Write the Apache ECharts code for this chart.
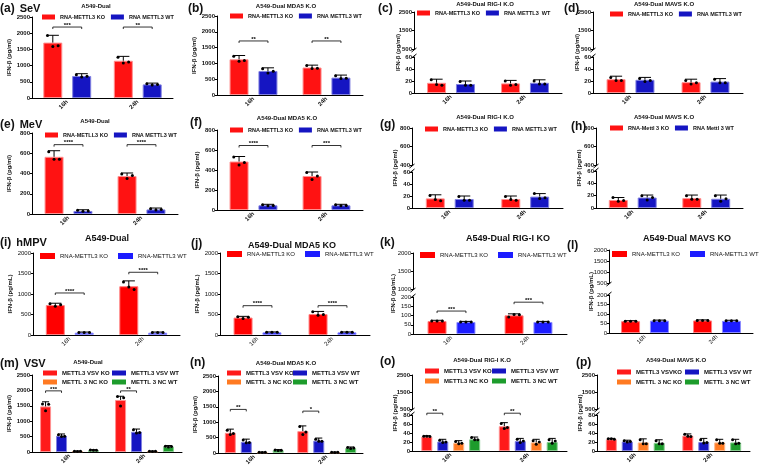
<!DOCTYPE html>
<html>
<head>
<meta charset="utf-8">
<script src="https://cdn.jsdelivr.net/npm/echarts@6/dist/echarts.min.js"></script>
<style>
html, body {margin: 0; padding: 0; background: #fff;}
#chart {width: 760px; height: 469px;}
</style>
</head>
<body>
<div id="chart"></div>
<script>
const font = 'Liberation Sans, Arial, sans-serif';
const times = ['16h', '24h'];

// legend / series names
const namesA = ['RNA-METTL3 KO', 'RNA METTL3 WT'];
const namesC = ['RNA-METTL3 KO', 'RNA METTL3  WT'];
const namesE = ['RNA-METLL3 KO', 'RNA METTL3 WT'];
const namesH = ['RNA-Mettl 3 KO', 'RNA Mettl 3 WT'];
const namesI = ['RNA-METTL3 KO', 'RNA-METTL3 WT'];
const namesM = ['METTL3 VSV KO', 'METTL3 VSV WT', 'METTL 3 NC KO', 'METTL 3 NC WT'];
const namesO = ['METTL3 VSV KO', 'METTL3 VSV WT', 'METTL3 NC KO', 'METTL 3 NC WT'];
const namesP = ['METTL3 VSVKO', 'METTL3 VSV WT', 'METTL 3 NC KO', 'METTL 3 NC WT'];

// values: [series][time], dots: [series][time][replicate], sig: [label, bracket height] per time
const aMean = [[1710, 1150], [680, 420]];
const aSd = [[225, 135], [70, 40]];
const aDots = [[[1930, 1590, 1610], [1260, 1080, 1110]], [[720, 650, 670], [440, 400, 420]]];
const aSig = [['***', 2190], ['**', 2190]];

const bMean = [[1130, 870], [760, 550]];
const bSd = [[120, 75], [100, 80]];
const bDots = [[[1230, 1070, 1090], [930, 840, 850]], [[830, 700, 750], [610, 520, 530]]];
const bSig = [['**', 1710], ['**', 1710]];

const cMean = [[17, 16], [15, 17]];
const cSd = [[6, 5], [5, 5]];
const cDots = [[[22, 14, 13], [20, 13, 14]], [[19, 13, 13], [20, 15, 15]]];

const dMean = [[23, 18], [22, 19]];
const dSd = [[5, 5], [4, 5]];
const dDots = [[[26, 21, 21], [21, 15, 17]], [[24, 19, 21], [23, 17, 17]]];

const eMean = [[565, 375], [30, 45]];
const eSd = [[60, 30], [12, 14]];
const eDots = [[[615, 540, 540], [395, 350, 380]], [[36, 28, 30], [52, 40, 44]]];
const eSig = [['****', 685], ['****', 685]];

const fMean = [[485, 340], [47, 47]];
const fSd = [[50, 40], [10, 10]];
const fDots = [[[530, 450, 475], [375, 305, 340]], [[52, 43, 46], [52, 42, 46]]];
const fSig = [['****', 645], ['***', 645]];

const gMean = [[16, 15], [15, 19]];
const gSd = [[6, 5], [5, 5]];
const gDots = [[[21, 14, 12], [19, 14, 13]], [[19, 13, 13], [24, 16, 17]]];

const hMean = [[13, 16], [17, 15]];
const hSd = [[4, 5], [4, 6]];
const hDots = [[[17, 11, 12], [20, 14, 14]], [[20, 13, 17], [20, 11, 15]]];

const iMean = [[730, 1190], [57, 57]];
const iSd = [[45, 130], [15, 15]];
const iDots = [[[760, 700, 740], [1290, 1170, 1110]], [[60, 58, 60], [58, 60, 58]]];
const iSig = [['****', 1025], ['****', 1530]];

const jMean = [[425, 510], [65, 65]];
const jSd = [[30, 65], [10, 10]];
const jDots = [[[445, 400, 430], [565, 480, 500]], [[65, 65, 65], [65, 65, 65]]];
const jSig = [['****', 715], ['****', 715]];

const kMean = [[70, 101], [65, 65]];
const kSd = [[4, 8], [3, 3]];
const kDots = [[[70, 70, 70], [92, 106, 104]], [[65, 65, 65], [65, 65, 65]]];
const kSig = [['***', 124], ['***', 172]];

const lMean = [[62, 66], [65, 64]];
const lSd = [[3, 3], [3, 3]];
const lDots = [[[62, 62, 62], [66, 66, 66]], [[65, 65, 65], [64, 64, 64]]];

const mMean = [[1480, 1690], [525, 655], [25, 22], [60, 175]];
const mSd = [[150, 120], [60, 90], [10, 10], [15, 35]];
const mDots = [[[1560, 1340, 1550], [1800, 1490, 1760]], [[560, 500, 515], [720, 620, 630]], [[28, 20, 25], [25, 18, 22]], [[65, 55, 60], [190, 160, 175]]];
const mSig = [['***', 1985], ['**', 1985]];

const nMean = [[655, 710], [360, 400], [22, 22], [90, 160]];
const nSd = [[120, 170], [90, 85], [10, 10], [20, 35]];
const nDots = [[[740, 600, 630], [860, 600, 680]], [[420, 330, 340], [450, 380, 380]], [[25, 20, 22], [25, 20, 22]], [[100, 80, 90], [180, 145, 160]]];
const nSig = [['**', 1415], ['*', 1360]];

const oMean = [[32, 55], [21, 22], [18, 19], [26, 20]];
const oSd = [[2, 8], [5, 6], [5, 7], [5, 8]];
const oDots = [[[33, 33, 32], [61, 50, 52]], [[24, 19, 20], [26, 19, 22]], [[21, 16, 17], [23, 15, 20]], [[30, 25, 25], [25, 17, 22]]];
const oSig = [['**', 84], ['**', 84]];

const pMean = [[26, 34], [21, 20], [19, 19], [18, 19]];
const pSd = [[2, 4], [3, 8], [8, 7], [7, 7]];
const pDots = [[[27, 27, 26], [37, 33, 32]], [[23, 20, 21], [25, 18, 19]], [[25, 16, 16], [25, 17, 17]], [[23, 16, 16], [25, 16, 17]]];

const panels = [
    {id: 'a', row: 0, names: namesA, mean: aMean, sd: aSd, dots: aDots, sig: aSig, title: 'A549-Dual', tag: '(a)', virus: 'SeV'},
    {id: 'b', row: 0, names: namesA, mean: bMean, sd: bSd, dots: bDots, sig: bSig, title: 'A549-Dual MDA5 K.O', tag: '(b)'},
    {id: 'c', row: 0, names: namesC, mean: cMean, sd: cSd, dots: cDots, sig: [], title: 'A549-Dual RIG-I K.O', tag: '(c)'},
    {id: 'd', row: 0, names: namesA, mean: dMean, sd: dSd, dots: dDots, sig: [], title: 'A549-Dual MAVS K.O', tag: '(d)'},
    {id: 'e', row: 1, names: namesE, mean: eMean, sd: eSd, dots: eDots, sig: eSig, title: 'A549-Dual', tag: '(e)', virus: 'MeV'},
    {id: 'f', row: 1, names: namesA, mean: fMean, sd: fSd, dots: fDots, sig: fSig, title: 'A549-Dual MDA5 K.O', tag: '(f)'},
    {id: 'g', row: 1, names: namesA, mean: gMean, sd: gSd, dots: gDots, sig: [], title: 'A549-Dual RIG-I K.O', tag: '(g)'},
    {id: 'h', row: 1, names: namesH, mean: hMean, sd: hSd, dots: hDots, sig: [], title: 'A549-Dual MAVS K.O', tag: '(h)'},
    {id: 'i', row: 2, names: namesI, mean: iMean, sd: iSd, dots: iDots, sig: iSig, title: 'A549-Dual', tag: '(i)', virus: 'hMPV'},
    {id: 'j', row: 2, names: namesI, mean: jMean, sd: jSd, dots: jDots, sig: jSig, title: 'A549-Dual MDA5 KO', tag: '(j)'},
    {id: 'k', row: 2, names: namesI, mean: kMean, sd: kSd, dots: kDots, sig: kSig, title: 'A549-Dual RIG-I KO', tag: '(k)'},
    {id: 'l', row: 2, names: namesI, mean: lMean, sd: lSd, dots: lDots, sig: [], title: 'A549-Dual MAVS KO', tag: '(l)'},
    {id: 'm', row: 3, names: namesM, mean: mMean, sd: mSd, dots: mDots, sig: mSig, title: 'A549-Dual', tag: '(m)', virus: 'VSV'},
    {id: 'n', row: 3, names: namesM, mean: nMean, sd: nSd, dots: nDots, sig: nSig, title: 'A549-Dual MDA5 K.O', tag: '(n)'},
    {id: 'o', row: 3, names: namesO, mean: oMean, sd: oSd, dots: oDots, sig: oSig, title: 'A549-Dual RIG-I K.O', tag: '(o)'},
    {id: 'p', row: 3, names: namesP, mean: pMean, sd: pSd, dots: pDots, sig: [], title: 'A549-Dual MAVS K.O', tag: '(p)'}
];

// plot boxes in px: l/r = x-axis extent, t = top tick, b = zero line, ub/lt = break for split axes
const layout = {
    a: {l: 32, r: 173, t: 17, b: 98, y: [0, 2500, 500], ng: 20, tt: [96, 3], tg: [0, 0], lg: [42, 14]},
    b: {l: 217, r: 363, t: 16, b: 95, y: [0, 2500, 500], ng: 18, tt: [286, 3], tg: [188, 3], lg: [230, 13]},
    c: {l: 414, r: 562, t: 12, ub: 49, lt: 57, b: 93, yu: [500, 2500, 1000], y: [0, 60, 20], ng: 13, tt: [485, 1], tg: [378, 3], lg: [417, 10]},
    d: {l: 593, r: 743, t: 12, ub: 49, lt: 57, b: 93, yu: [500, 2500, 1000], y: [0, 60, 20], ng: 13, tt: [664, 1], tg: [564, 3], lg: [610, 11]},
    e: {l: 32, r: 178, t: 133, b: 214, y: [0, 800, 200], ng: 20, tt: [95, 118], tg: [0, 116], lg: [45, 132]},
    f: {l: 217, r: 363, t: 130, b: 210, y: [0, 800, 200], ng: 17, tt: [287, 115], tg: [190, 117], lg: [230, 127]},
    g: {l: 412, r: 563, t: 128, ub: 165, lt: 172, b: 208, yu: [400, 800, 200], y: [0, 60, 20], ng: 14, tt: [485, 114], tg: [380, 119], lg: [425, 126]},
    h: {l: 596, r: 743, t: 128, ub: 165, lt: 171, b: 208, yu: [400, 800, 200], y: [0, 60, 20], ng: 14, tt: [664, 114], tg: [571, 121], lg: [610, 125]},
    i: {l: 33, r: 180, t: 253, b: 335, y: [0, 2000, 500], ng: 20, tt: [107, 234], tg: [0, 234], lg: [40, 253]},
    j: {l: 220, r: 370, t: 253, b: 335, y: [0, 2000, 500], ng: 18, tt: [292, 241], tg: [191, 238], lg: [227, 251]},
    k: {l: 413, r: 567, t: 253, ub: 289, lt: 297, b: 334, yu: [1000, 2000, 500], y: [0, 200, 50], ng: 17, tt: [508, 234], tg: [380, 237], lg: [420, 252]},
    l: {l: 609, r: 753, t: 250, ub: 283, lt: 295, b: 333, yu: [500, 2000, 500], y: [0, 200, 50], ng: 15, tt: [687, 234], tg: [567, 240], lg: [612, 251]},
    m: {l: 32, r: 182, t: 375, b: 452, y: [0, 2500, 500], ng: 20, tt: [88, 359], tg: [0, 355], lg: [[43, 370], [112, 370], [43, 379], [112, 379]]},
    n: {l: 218, r: 363, t: 376, b: 453, y: [0, 2500, 500], ng: 18, tt: [286, 360], tg: [190, 357], lg: [[227, 370], [293, 370], [227, 379], [293, 379]]},
    o: {l: 412, r: 567, t: 375, ub: 409, lt: 415, b: 451, yu: [500, 2500, 1000], y: [0, 80, 20], ng: 14, tt: [482, 357], tg: [380, 356], lg: [[425, 368], [492, 368], [425, 378], [492, 378]]},
    p: {l: 597, r: 750, t: 375, ub: 409, lt: 415, b: 451, yu: [500, 2500, 1000], y: [0, 80, 20], ng: 14, tt: [676, 357], tg: [576, 357], lg: [[617, 369], [685, 369], [617, 379], [685, 379]]}
};

const rowStyle = [
    {colors: ['#ff1212', '#1515c2'], edge: ['#ff9090', '#8080e0'], fw: 'bold', fs: 6, leg: 5.5, lw: 13, lh: 5, gap: 6, tfs: 6, yname: 'IFN-β (pg/ml)', bw: 19, barGap: '52%'},
    {colors: ['#ff1212', '#1515c2'], edge: ['#ff9090', '#8080e0'], fw: 'bold', fs: 6, leg: 5.5, lw: 13, lh: 5, gap: 6, tfs: 6, yname: 'IFN-β (pg/ml)', bw: 19, barGap: '52%'},
    {colors: ['#ff0000', '#1c1cff'], edge: ['#ff8080', '#8c8cff'], fw: 'normal', fs: 6, leg: 6, lw: 15, lh: 6, gap: 10, tfs: 9, yname: 'IFN-β (pg/mL)', bw: 19, barGap: '52%'},
    {colors: ['#ff1a1a', '#1515c2', '#ff7a22', '#1d9c2c'], edge: ['#ff9090', '#8080e0', '#ffb888', '#88cc90'], fw: 'bold', fs: 6, leg: 6, lw: 14, lh: 5, gap: 7, tfs: 6, yname: 'IFN-β (pg/ml)', bw: 11, barGap: '45%'}
];

const option = {
    animation: false,
    backgroundColor: '#fff',
    textStyle: {fontFamily: font},
    grid: [], xAxis: [], yAxis: [], series: [], legend: [], title: [], graphic: []
};

function valueAxis(gi, range, R, showName, ng) {
    return {
        gridIndex: gi, type: 'value', min: range[0], max: range[1], interval: range[2],
        splitLine: {show: false},
        axisLine: {show: true, lineStyle: {color: '#000', width: 1}},
        axisTick: {show: true, length: 2, lineStyle: {color: '#000'}},
        axisLabel: {fontSize: R.fs, fontWeight: R.fw, color: '#111', margin: 2, fontFamily: font, showMinLabel: true, showMaxLabel: true,
            formatter: function (v) { return String(v); }},
        name: showName ? R.yname : '', nameLocation: 'middle', nameGap: ng,
        nameTextStyle: {fontSize: 6, fontWeight: 'bold', color: '#111', fontFamily: font}
    };
}

function catAxis(gi, show, R) {
    return {
        gridIndex: gi, type: 'category', data: times, show: show,
        axisLine: {lineStyle: {color: '#000', width: 1}},
        axisTick: {alignWithLabel: true, length: 2, lineStyle: {color: '#000'}},
        axisLabel: {rotate: 45, fontSize: R.fs, fontWeight: R.fw, color: '#111', margin: 3, fontFamily: font}
    };
}

function errorRender(p, R, step) {
    const n = p.mean.length;
    return function (params, api) {
        const t = api.value(0), s = api.value(1), m = api.value(2), sd = api.value(3);
        const base = api.coord([t, m]);
        const x = base[0] + (s - (n - 1) / 2) * step;
        const top = api.coord([t, m + sd])[1];
        const cap = R.bw * 0.32;
        const kids = [
            {type: 'line', shape: {x1: x, y1: base[1], x2: x, y2: top}, style: {stroke: '#000', lineWidth: 1}},
            {type: 'line', shape: {x1: x - cap, y1: top, x2: x + cap, y2: top}, style: {stroke: '#000', lineWidth: 1}}
        ];
        p.dots[s][t].forEach(function (v, k) {
            const y = api.coord([t, v])[1];
            kids.push({type: 'circle', shape: {cx: x + (k - 1) * R.bw * 0.28, cy: y, r: 1.5}, style: {fill: '#000'}});
        });
        return {type: 'group', children: kids};
    };
}

function sigRender(p, step) {
    const n = p.mean.length;
    return function (params, api) {
        const t = api.value(0), v = api.value(1);
        const c = api.coord([t, v]);
        const x0 = c[0] - (n - 1) / 2 * step, x1 = x0 + step;
        return {type: 'group', children: [
            {type: 'polyline', shape: {points: [[x0, c[1] + 2], [x0, c[1]], [x1, c[1]], [x1, c[1] + 2]]}, style: {stroke: '#000', fill: null, lineWidth: 0.8}},
            {type: 'text', style: {text: p.sig[params.dataIndex][0], x: (x0 + x1) / 2, y: c[1] + 1, align: 'center', verticalAlign: 'bottom', fontSize: 6, fontWeight: 'bold', fontFamily: font, fill: '#000'}}
        ]};
    };
}

panels.forEach(function (p) {
    const L = layout[p.id], R = rowStyle[p.row];
    const w = L.r - L.l;
    let gi = option.grid.length;
    if (L.yu) {
        option.grid.push({left: L.l, top: L.t, width: w, height: L.ub - L.t});
        option.xAxis.push(catAxis(gi, false, R));
        option.yAxis.push(valueAxis(gi, L.yu, R, false, 0));
        // full-height hidden axis just for the centred axis name
        option.grid.push({left: L.l, top: L.t, width: w, height: L.b - L.t});
        option.xAxis.push(catAxis(gi + 1, false, R));
        const nameAxis = valueAxis(gi + 1, [0, 1, 1], R, true, L.ng);
        nameAxis.axisLine.show = false; nameAxis.axisTick.show = false; nameAxis.axisLabel.show = false;
        option.yAxis.push(nameAxis);
        gi += 2;
        option.grid.push({left: L.l, top: L.lt, width: w, height: L.b - L.lt});
        option.xAxis.push(catAxis(gi, true, R));
        option.yAxis.push(valueAxis(gi, L.y, R, false, 0));
        // break marks
        [L.ub + 1, L.lt - 1].forEach(function (yy) {
            option.graphic.push({type: 'line', shape: {x1: L.l - 2.5, y1: yy + 2, x2: L.l + 2.5, y2: yy - 2}, style: {stroke: '#000', lineWidth: 1}});
        });
    } else {
        option.grid.push({left: L.l, top: L.t, width: w, height: L.b - L.t});
        option.xAxis.push(catAxis(gi, true, R));
        option.yAxis.push(valueAxis(gi, L.y, R, true, L.ng));
    }

    const step = R.bw * (1 + parseFloat(R.barGap) / 100);
    p.names.forEach(function (name, s) {
        option.series.push({
            type: 'bar', name: name, xAxisIndex: gi, yAxisIndex: gi, data: p.mean[s],
            barWidth: R.bw, barGap: R.barGap,
            itemStyle: {color: R.colors[s], borderColor: R.edge[s], borderWidth: 1}
        });
    });

    const errData = [];
    p.mean.forEach(function (row, s) {
        row.forEach(function (m, t) { errData.push([t, s, m, p.sd[s][t]]); });
    });
    option.series.push({type: 'custom', xAxisIndex: gi, yAxisIndex: gi, encode: {x: 0, y: 2}, data: errData, renderItem: errorRender(p, R, step), z: 5, silent: true});

    if (p.sig.length) {
        option.series.push({
            type: 'custom', xAxisIndex: gi, yAxisIndex: gi, encode: {x: 0, y: 1}, clip: false,
            data: p.sig.map(function (s, t) { return [t, s[1]]; }),
            renderItem: sigRender(p, step), z: 6, silent: true
        });
    }

    // legend
    const legText = {fontSize: R.leg, fontWeight: R.fw, fontFamily: font, color: '#111'};
    if (Array.isArray(L.lg[0])) {
        p.names.forEach(function (name, s) {
            option.legend.push({
                left: L.lg[s][0], top: L.lg[s][1], padding: 0, itemWidth: R.lw, itemHeight: R.lh, selectedMode: false,
                textStyle: legText, data: [{name: name, icon: 'rect', itemStyle: {color: R.colors[s], borderWidth: 0}}]
            });
        });
    } else {
        option.legend.push({
            left: L.lg[0], top: L.lg[1], width: 400, padding: 0, itemWidth: R.lw, itemHeight: R.lh, itemGap: R.gap, selectedMode: false,
            textStyle: legText,
            data: p.names.map(function (name, s) { return {name: name, icon: 'rect', itemStyle: {color: R.colors[s], borderWidth: 0}}; })
        });
    }

    // titles and panel tags
    option.title.push({
        text: p.title, left: L.tt[0], top: L.tt[1], textAlign: 'center', padding: 0,
        textStyle: {fontSize: R.tfs, fontWeight: 'bold', fontFamily: font, color: '#111'}
    });
    option.title.push({
        text: p.virus ? '{t|' + p.tag + '} {v|' + p.virus + '}' : '{t|' + p.tag + '}',
        left: L.tg[0], top: L.tg[1], padding: 0,
        textStyle: {rich: {
            t: {fontSize: 12, fontFamily: font, color: '#111'},
            v: {fontSize: 11, fontWeight: 'bold', fontFamily: font, color: '#111'}
        }}
    });
});

const chart = echarts.init(document.getElementById('chart'), null, {renderer: 'canvas'});
chart.setOption(option);
</script>
</body>
</html>
